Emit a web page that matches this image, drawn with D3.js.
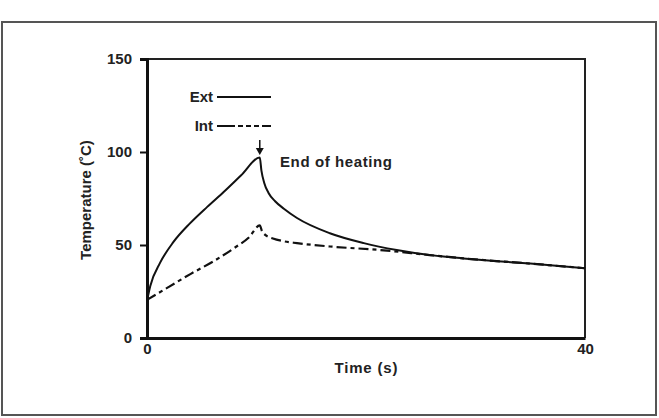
<!DOCTYPE html>
<html>
<head>
<script src="https://cdn.jsdelivr.net/npm/d3@7"></script>
<style>
  body { margin: 0; background: #fff; }
  text { font-family: "Liberation Sans", Arial, sans-serif; font-weight: bold; fill: #222; }
</style>
</head>
<body>
<div id="viz"></div>
<script>
// time (s) / temperature (C)
var extTime = [0, 0.3, 1.2, 2.4, 3.9, 5.5, 7, 8.6, 10.3, 10.45, 10.7, 11.1, 11.7, 12.5, 13.7, 16.7, 19.8, 22.8, 25.8, 28.9, 32, 35, 40];
var extTemp = [20, 28, 40.5, 51.5, 61.5, 70.5, 78.5, 87.5, 97, 90, 83.5, 78, 73.5, 69.5, 64.5, 56.3, 51, 47.3, 44.6, 42.8, 41.3, 40, 37.5];
var intTime = [0, 2, 4, 6, 8, 9.3, 10.3, 10.5, 10.9, 11.5, 12.5, 13.7, 16.7, 21.3, 25.8, 28.9, 35, 40];
var intTemp = [20.5, 27.5, 34.5, 41, 48.5, 54, 60.5, 57.5, 55, 53.5, 52, 51, 49.2, 47.3, 44.6, 42.8, 40, 37.5];
var yTicks = [0, 50, 100, 150];
var xTicks = [0, 40];
var heatEnd = 10.3;

var W = 659, H = 418;
var m = {left: 147, right: 74, top: 59, bottom: 80};
var fs = "15px";

var svg = d3.select("#viz").append("svg")
    .attr("width", W)
    .attr("height", H);

// outer frame
svg.append("rect")
    .attr("x", 2).attr("y", 22)
    .attr("width", 654).attr("height", 393)
    .style("fill", "none")
    .style("stroke", "#555")
    .style("stroke-width", 2);

var x = d3.scaleLinear().domain([0, 40]).range([m.left, W - m.right]);
var y = d3.scaleLinear().domain([0, 150]).range([H - m.bottom, m.top]);

// top + right borders
svg.append("path")
    .attr("d", "M" + x(0) + "," + y(150) + "H" + x(40) + "V" + y(0))
    .style("fill", "none").style("stroke", "#222").style("stroke-width", 2);

var yAxis = svg.append("g")
    .attr("transform", "translate(" + x(0) + ",0)")
    .call(d3.axisLeft(y).tickValues(yTicks).tickSize(7).tickPadding(8));
var xAxis = svg.append("g")
    .attr("transform", "translate(0," + y(0) + ")")
    .call(d3.axisBottom(x).tickValues(xTicks).tickSize(0).tickPadding(5));

[yAxis, xAxis].forEach(function(g){
    g.select(".domain").style("stroke", "#111").style("stroke-width", 3);
    g.selectAll(".tick line").style("stroke", "#111").style("stroke-width", 2);
    g.selectAll("text").style("font-size", fs).style("fill", "#222");
});
yAxis.selectAll(".tick").filter(function(d){ return d == 0 || d == 150; }).select("line").remove();

svg.append("text")
    .attr("x", 366).attr("y", 373)
    .attr("text-anchor", "middle")
    .style("font-size", fs)
    .attr("textLength", 63)
    .text("Time (s)");
svg.append("text")
    .attr("transform", "translate(91,200) rotate(-90)")
    .attr("text-anchor", "middle")
    .style("font-size", fs)
    .text("Temperature (˚C)");

var line = d3.line()
    .x(function(d){ return x(d[0]); })
    .y(function(d){ return y(d[1]); })
    .curve(d3.curveMonotoneX);

var intPts = d3.zip(intTime, intTemp);
var extPts = d3.zip(extTime, extTemp);

svg.append("path")
    .attr("d", line(intPts))
    .style("fill", "none").style("stroke", "#111").style("stroke-width", 2.2)
    .style("stroke-dasharray", "10,4,4,4");
svg.append("path")
    .attr("d", line(extPts))
    .style("fill", "none").style("stroke", "#111").style("stroke-width", 2);

// legend
var legend = [{name: "Ext", dash: null, y: 97}, {name: "Int", dash: "18,3,5,3,5,3,5,3", y: 126}];
legend.forEach(function(l){
    svg.append("text")
        .attr("x", 213).attr("y", l.y + 5)
        .attr("text-anchor", "end")
        .style("font-size", fs)
        .text(l.name);
    svg.append("line")
        .attr("x1", 217).attr("x2", 271)
        .attr("y1", l.y).attr("y2", l.y)
        .style("stroke", "#111").style("stroke-width", 2)
        .style("stroke-dasharray", l.dash);
});

// end of heating arrow
var ax = x(heatEnd);
svg.append("line")
    .attr("x1", ax).attr("x2", ax)
    .attr("y1", 140).attr("y2", 150)
    .style("stroke", "#111").style("stroke-width", 1.5);
svg.append("path")
    .attr("d", "M" + (ax - 4) + ",148L" + (ax + 4) + ",148L" + ax + ",155Z")
    .style("fill", "#111");
svg.append("text")
    .attr("x", 280).attr("y", 167)
    .style("font-size", fs)
    .attr("textLength", 112)
    .text("End of heating");
</script>
</body>
</html>
